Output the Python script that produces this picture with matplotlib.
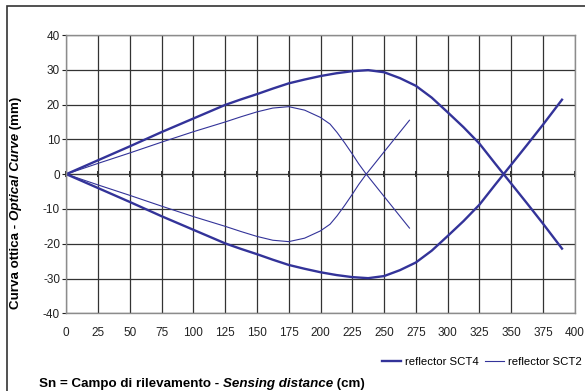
import matplotlib
matplotlib.use("Agg")
import matplotlib.pyplot as plt
from matplotlib.patches import Rectangle
from matplotlib.ticker import NullFormatter

plt.rcParams['font.family'] = ['Liberation Sans', 'DejaVu Sans']
plt.rcParams['axes.unicode_minus'] = False

# SCT4 (thick) upper branch; lower branch is its mirror
sct4_x = [0, 25, 50, 75, 100, 125, 137.5, 150, 162.5, 175, 187.5, 200, 212.5, 225, 237.5,
          250, 262.5, 275, 287.5, 300, 312.5, 325, 337.5, 350, 362.5, 375, 390]
sct4_up = [0, 4, 8, 12.1, 16, 19.9, 21.5, 23, 24.6, 26.1, 27.2, 28.2, 29, 29.6, 29.9,
           29.3, 27.6, 25.4, 22, 17.8, 13.5, 8.8, 3, -2.7, -8.4, -14.2, -21.4]
sct4_lo = [-v for v in sct4_up]

# SCT2 (thin) upper branch; lower branch is its mirror
sct2_x = [0, 25, 50, 75, 100, 125, 137.5, 150, 162.5, 175, 187.5, 200, 207.5, 213, 219,
          225, 230, 236, 250, 270]
sct2_up = [0, 3.1, 6.1, 9.2, 12.2, 15, 16.5, 17.9, 19, 19.4, 18.4, 16.3, 14.4, 12, 9,
           5.8, 3, 0, -6.4, -15.5]
sct2_lo = [-v for v in sct2_up]

xticks = list(range(0, 401, 25))
yticks = list(range(-40, 41, 10))
legend_labels = ["reflector SCT4", "reflector SCT2"]

color = '#333399'
W, H = 585, 391
fig = plt.figure(figsize=(W / 100, H / 100), dpi=100)
# outer frame (cut off at right and bottom)
fig.patches.append(Rectangle((7 / W, -0.1), 1.2, 1 - 6 / H + 0.1, transform=fig.transFigure,
                             fill=False, edgecolor='#333333', lw=1.2))

ax = fig.add_axes([66.3 / W, 1 - 313.3 / H, (574.7 - 66.3) / W, (313.3 - 35) / H])
ax.set_xlim(0, 400)
ax.set_ylim(-40, 40)
ax.set_xticks(xticks)
ax.set_yticks(yticks)
ax.grid(True, color='#333333', lw=0.9)
ax.set_axisbelow(True)
for s in ax.spines.values():
    s.set_color('#8c8c8c')
    s.set_linewidth(1.0)
ax.tick_params(axis='x', length=0, pad=10, labelsize=8.5, colors='#222222')
ax.tick_params(axis='y', direction='out', length=3, pad=1.5, labelsize=8.5, colors='#222222',
               color='#222222')

sec = ax.secondary_xaxis(0.5)
sec.set_xticks(xticks)
sec.xaxis.set_major_formatter(NullFormatter())
sec.tick_params(direction='inout', length=5, width=1.2, color='#111111')
sec.spines['bottom'].set_color('#111111')
sec.spines['bottom'].set_linewidth(1.0)

l1, = ax.plot(sct4_x, sct4_up, color=color, lw=1.7, solid_joinstyle='round')
ax.plot(sct4_x, sct4_lo, color=color, lw=1.7, solid_joinstyle='round')
l2, = ax.plot(sct2_x, sct2_up, color=color, lw=0.8, solid_joinstyle='round')
ax.plot(sct2_x, sct2_lo, color=color, lw=0.8, solid_joinstyle='round')

fig.legend([l1, l2], legend_labels, loc='center right', bbox_to_anchor=(582 / W, 1 - 362 / H),
           ncol=2, frameon=False, fontsize=8.2, handlelength=1.67, handletextpad=0.35,
           columnspacing=0.6, borderaxespad=0.0, borderpad=0.0)

r = fig.canvas.get_renderer()
inv = fig.transFigure.inverted()

# x label (bold with italic part)
fs_lab = 9.6
xparts = [("Sn = Campo di rilevamento - ", 'normal'), ("Sensing distance", 'italic'),
          (" (cm)", 'normal')]
xtexts = [fig.text(0, 0, p, fontsize=fs_lab, fontweight='bold', fontstyle=st,
                   ha='left', va='baseline') for p, st in xparts]
fig.canvas.draw()
x = 39
for t in xtexts:
    t.set_position(inv.transform((x, 4)))
    fig.canvas.draw()
    x = t.get_window_extent(r).x1

# y label (rotated, bold with italic part)
yparts = [("Curva ottica - ", 'normal'), ("Optical Curve", 'italic'), (" (mm)", 'normal')]
ytexts = [fig.text(0, 0, p, fontsize=fs_lab, fontweight='bold', fontstyle=st, rotation=90,
                   ha='center', va='bottom') for p, st in yparts]
fig.canvas.draw()
heights = [t.get_window_extent(r).height for t in ytexts]
total = sum(heights)
cx = 16
y = (H - 203) - total / 2
for t, h in zip(ytexts, heights):
    t.set_position(inv.transform((cx, y)))
    y += h

fig.savefig("out.png", dpi=100)
